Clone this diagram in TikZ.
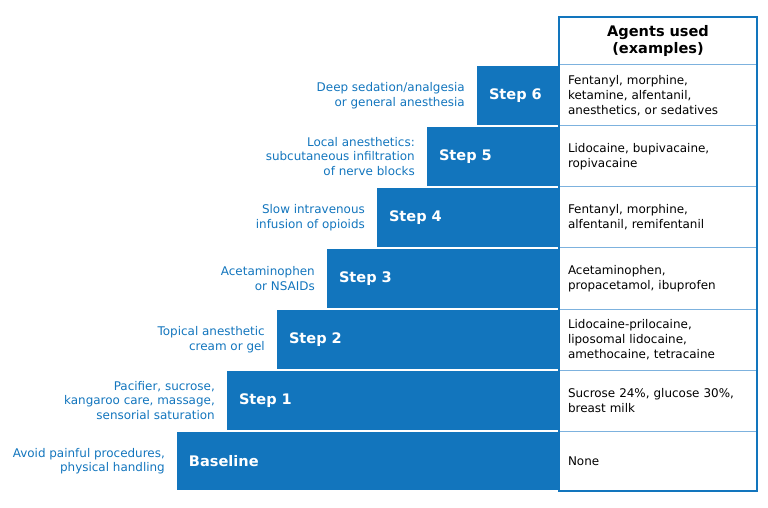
\documentclass[tikz,border=0pt]{standalone}
\usepackage{fontspec}
\setmainfont{DejaVu Sans}
\definecolor{ublue}{RGB}{18,117,189}
\definecolor{lblue}{RGB}{125,178,222}
\begin{document}
\begin{tikzpicture}[x=1bp,y=-1bp,
  bar/.style={fill=ublue, draw=white, line width=1.5bp, text=white,
    font=\fontsize{14.6}{17}\selectfont\bfseries, align=left,
    inner ysep=0pt, inner xsep=13bp, outer sep=0pt, anchor=south east},
  desc/.style={text=ublue, font=\fontsize{12}{14.5}\selectfont, align=right,
    inner sep=0pt, anchor=east},
  cell/.style={minimum width=198bp, text width=180bp, inner xsep=9bp, inner ysep=0pt,
    outer sep=0pt, align=left, anchor=north west, font=\fontsize{12}{15}\selectfont},
  sep/.style={draw=lblue, line width=1bp},
  frame/.style={draw=ublue, line width=2bp}]
\useasboundingbox (0,0) rectangle (768,508);
% bars
\node[bar, minimum height=60bp, text width=357bp] (b0) at (559,491) {Baseline};
\node[bar, minimum height=61bp, text width=307bp] (b1) at (559,431) {Step 1};
\node[bar, minimum height=61bp, text width=257bp] (b2) at (559,370) {Step 2};
\node[bar, minimum height=61bp, text width=207bp] (b3) at (559,309) {Step 3};
\node[bar, minimum height=61bp, text width=157bp] (b4) at (559,248) {Step 4};
\node[bar, minimum height=61bp, text width=107bp] (b5) at (559,187) {Step 5};
\node[bar, minimum height=61bp, text width=57bp] (b6) at (559,126) {Step 6};
% descriptions
\node[desc] (d0) at ([xshift=-11bp]b0.west) {Avoid painful procedures,\\physical handling};
\node[desc] (d1) at ([xshift=-11bp]b1.west) {Pacifier, sucrose,\\kangaroo care, massage,\\sensorial saturation};
\node[desc] (d2) at ([xshift=-11bp]b2.west) {Topical anesthetic\\cream or gel};
\node[desc] (d3) at ([xshift=-11bp]b3.west) {Acetaminophen\\or NSAIDs};
\node[desc] (d4) at ([xshift=-11bp]b4.west) {Slow intravenous\\infusion of opioids};
\node[desc] (d5) at ([xshift=-11bp]b5.west) {Local anesthetics:\\subcutaneous infiltration\\of nerve blocks};
\node[desc] (d6) at ([xshift=-11bp]b6.west) {Deep sedation/analgesia\\or general anesthesia};
% table
\node[cell, minimum height=48bp, align=center, font=\fontsize{14.6}{17}\selectfont\bfseries] (h) at (559,17) {Agents used\\(examples)};
\node[cell, minimum height=61bp] (a6) at (559,65) {Fentanyl, morphine,\\ketamine, alfentanil,\\anesthetics, or sedatives};
\node[cell, minimum height=61bp] (a5) at (559,126) {Lidocaine, bupivacaine,\\ropivacaine};
\node[cell, minimum height=61bp] (a4) at (559,187) {Fentanyl, morphine,\\alfentanil, remifentanil};
\node[cell, minimum height=61bp] (a3) at (559,248) {Acetaminophen,\\propacetamol, ibuprofen};
\node[cell, minimum height=61bp] (a2) at (559,309) {Lidocaine-prilocaine,\\liposomal lidocaine,\\amethocaine, tetracaine};
\node[cell, minimum height=61bp] (a1) at (559,370) {Sucrose 24\%, glucose 30\%,\\breast milk};
\node[cell, minimum height=60bp] (a0) at (559,431) {None};
\foreach \r in {a6,a5,a4,a3,a2,a1,a0} \draw[sep] (\r.north west) -- (\r.north east);
\draw[frame] (h.north west) rectangle (a0.south east);
\end{tikzpicture}
\end{document}
